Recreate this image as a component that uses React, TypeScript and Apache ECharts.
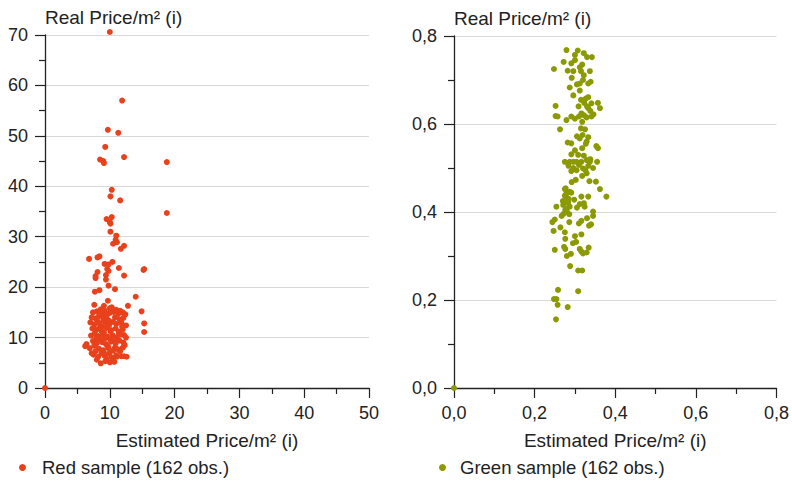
import React, { useEffect, useRef } from "react";
import * as echarts from "echarts";

// Red sample: [estimated, real]
const redSample: [number, number][] = [
  [0, 0],
  [10.0, 70.6], [11.9, 57.0], [9.7, 51.2], [11.3, 50.6], [12.2, 45.8], [9.3, 47.8],
  [8.5, 45.3], [9.0, 45.0], [9.1, 44.6], [18.8, 44.8], [10.3, 39.3], [10.1, 38.0],
  [11.6, 37.2], [18.8, 34.7], [9.5, 33.5], [10.3, 33.9], [10.0, 32.9], [10.1, 32.6],
  [10.1, 31.0], [11.0, 30.2], [10.9, 29.4], [11.1, 28.9], [10.5, 28.6], [12.2, 28.2],
  [11.7, 27.6], [6.8, 25.6], [8.1, 25.9], [8.4, 26.1], [9.2, 24.6], [9.8, 24.5],
  [10.4, 25.0], [9.6, 23.6], [9.8, 23.2], [8.1, 23.0], [9.4, 22.4], [7.8, 22.2],
  [11.4, 23.8], [12.2, 22.3], [15.2, 23.4], [15.3, 23.6], [7.8, 21.8], [9.4, 21.5],
  [14.0, 18.1], [7.7, 19.1], [8.4, 19.4], [9.8, 20.3], [10.8, 19.6], [7.6, 16.5],
  [9.1, 16.3], [9.7, 17.3], [12.8, 16.3], [14.9, 15.2], [15.3, 12.8], [15.3, 11.1],
  [12.2, 10.5], [6.2, 8.3], [6.4, 8.7], [8.6, 4.9], [9.3, 5.3], [10.0, 5.1],
  [10.5, 5.6], [11.1, 6.2], [11.8, 6.3], [12.2, 6.3], [11.6, 7.3], [10.8, 8.0],
  [7.4, 15.0], [8.0, 15.2], [8.6, 15.6], [9.2, 15.4], [10.0, 15.8], [10.6, 15.1],
  [11.0, 15.5], [11.6, 15.3], [12.0, 15.0], [11.3, 14.7], [12.4, 14.6], [10.0, 14.9],
  [7.2, 14.0], [7.8, 13.8], [8.3, 14.2], [8.9, 14.4], [9.5, 13.9], [10.8, 14.0],
  [11.5, 13.6], [12.1, 13.9], [9.0, 13.5], [8.1, 13.2],
  [7.0, 13.0], [7.6, 12.6], [8.4, 12.8], [9.3, 12.9], [9.9, 12.5], [10.5, 13.1],
  [11.0, 12.7], [11.8, 12.9], [12.5, 12.4], [8.8, 12.2],
  [7.3, 11.8], [8.0, 11.6], [8.7, 11.3], [9.5, 11.9], [10.2, 11.5], [10.9, 11.8],
  [11.4, 11.2], [12.0, 11.6], [9.1, 11.0], [7.7, 10.9],
  [7.1, 10.4], [8.2, 10.3], [8.9, 10.6], [9.6, 10.2], [10.4, 10.5], [11.1, 10.1],
  [11.7, 10.6], [12.5, 10.0], [10.0, 9.8], [8.5, 9.7],
  [7.4, 9.3], [8.0, 8.9], [8.8, 9.1], [9.4, 8.7], [10.2, 9.2], [10.9, 8.8],
  [11.5, 9.4], [12.1, 9.0], [9.7, 8.3], [7.6, 8.4],
  [6.9, 7.9], [8.3, 7.8], [9.0, 7.5], [9.8, 7.9], [10.5, 7.4], [11.2, 7.7],
  [12.0, 8.0], [7.8, 7.3], [8.7, 6.9],
  [7.5, 6.6], [8.2, 6.2], [9.2, 6.4], [9.9, 6.8], [10.3, 6.1], [11.0, 6.5],
  [12.6, 6.2], [9.5, 5.8], [8.0, 5.6], [10.7, 5.2], [9.1, 7.0], [7.2, 6.9],
  [10.3, 16.0], [9.6, 14.6], [11.9, 12.2], [8.6, 14.8], [7.9, 9.9], [10.7, 9.6],
  [11.4, 11.0], [9.3, 9.9], [12.3, 8.5], [10.1, 11.2], [8.4, 11.9], [9.8, 13.4],
];

// Green sample: [estimated, real]
const greenSample: [number, number][] = [
  [0, 0],
  [0.279, 0.768], [0.307, 0.767], [0.322, 0.761], [0.330, 0.752], [0.342, 0.752],
  [0.272, 0.741], [0.291, 0.738], [0.300, 0.757],
  [0.248, 0.725], [0.282, 0.721], [0.296, 0.720], [0.312, 0.729], [0.315, 0.720], [0.322, 0.711], [0.337, 0.720],
  [0.287, 0.683], [0.312, 0.692], [0.312, 0.676], [0.339, 0.696], [0.333, 0.692],
  [0.315, 0.655], [0.327, 0.658], [0.333, 0.661], [0.341, 0.647], [0.357, 0.648], [0.362, 0.636],
  [0.252, 0.641], [0.252, 0.618], [0.257, 0.617], [0.279, 0.609], [0.291, 0.617], [0.310, 0.617],
  [0.316, 0.624], [0.322, 0.620], [0.329, 0.615], [0.341, 0.617], [0.333, 0.636],
  [0.263, 0.588], [0.315, 0.590], [0.319, 0.575], [0.312, 0.567], [0.329, 0.560], [0.353, 0.550], [0.357, 0.545],
  [0.282, 0.558], [0.291, 0.556], [0.327, 0.555], [0.291, 0.531], [0.308, 0.530],
  [0.275, 0.514], [0.287, 0.514], [0.296, 0.514], [0.304, 0.514], [0.316, 0.514], [0.329, 0.518], [0.337, 0.514], [0.355, 0.514],
  [0.291, 0.493], [0.304, 0.495], [0.320, 0.499], [0.329, 0.488], [0.326, 0.495],
  [0.302, 0.473], [0.352, 0.469], [0.362, 0.452], [0.277, 0.454], [0.282, 0.444], [0.287, 0.446],
  [0.316, 0.435], [0.333, 0.435], [0.378, 0.435],
  [0.275, 0.452], [0.279, 0.442], [0.291, 0.444], [0.279, 0.431], [0.282, 0.426], [0.283, 0.421],
  [0.273, 0.420], [0.271, 0.416], [0.287, 0.412], [0.279, 0.408], [0.280, 0.401], [0.254, 0.412],
  [0.312, 0.418], [0.324, 0.412],
  [0.345, 0.401], [0.345, 0.391], [0.330, 0.386], [0.335, 0.369], [0.310, 0.374], [0.286, 0.377], [0.267, 0.391],
  [0.244, 0.377], [0.250, 0.383], [0.247, 0.357], [0.275, 0.354], [0.276, 0.339], [0.300, 0.345], [0.316, 0.349], [0.295, 0.329],
  [0.250, 0.314], [0.273, 0.321], [0.276, 0.316], [0.280, 0.300], [0.312, 0.316], [0.316, 0.310], [0.320, 0.306], [0.329, 0.308], [0.334, 0.319],
  [0.288, 0.277], [0.308, 0.267], [0.318, 0.267],
  [0.258, 0.223], [0.308, 0.220], [0.248, 0.202], [0.254, 0.202], [0.257, 0.189], [0.282, 0.184], [0.253, 0.156],
  [0.300, 0.745], [0.318, 0.735], [0.292, 0.705], [0.320, 0.700], [0.305, 0.690], [0.296, 0.665],
  [0.323, 0.648], [0.338, 0.630], [0.300, 0.612], [0.346, 0.622], [0.318, 0.605], [0.330, 0.640],
  [0.309, 0.640], [0.325, 0.588], [0.305, 0.572], [0.333, 0.570], [0.318, 0.545], [0.300, 0.540],
  [0.322, 0.528], [0.338, 0.520], [0.310, 0.507], [0.296, 0.500], [0.333, 0.505], [0.345, 0.500],
  [0.284, 0.505], [0.318, 0.482], [0.336, 0.470], [0.292, 0.468], [0.275, 0.437], [0.284, 0.430],
  [0.270, 0.425], [0.276, 0.405], [0.286, 0.395], [0.272, 0.396], [0.305, 0.410], [0.322, 0.420],
  [0.298, 0.428], [0.316, 0.380], [0.340, 0.372], [0.264, 0.365], [0.303, 0.332], [0.290, 0.305],
];

const redName = "Red sample (162 obs.)";
const greenName = "Green sample (162 obs.)";
const yTitle = "Real Price/m² (i)";
const xTitle = "Estimated Price/m² (i)";

const RED = "#e8411c";
const GREEN = "#8a9a00";
const FONT = "Liberation Sans, Arial, sans-serif";
const TXT = "#222222";

const comma = (v: number) => v.toFixed(1).replace(".", ",");

function axisCommon() {
  return {
    axisLine: { show: true, onZero: false, lineStyle: { color: "#222", width: 1.3 } },
    axisTick: { show: true, inside: false, length: 10, lineStyle: { color: "#222", width: 1.2 } },
    minorTick: { show: true, splitNumber: 2, length: 6, lineStyle: { color: "#222", width: 1.2 } },
    axisLabel: { color: TXT, fontSize: 18, fontFamily: FONT, margin: 16 },
    nameTextStyle: { color: TXT, fontSize: 19, fontFamily: FONT },
  };
}

export default function App() {
  const ref = useRef<HTMLDivElement>(null);
  useEffect(() => {
    if (!ref.current) return;
    const chart = echarts.init(ref.current, undefined, { renderer: "svg" });
    const c = axisCommon();
    chart.setOption({
      animation: false,
      backgroundColor: "#ffffff",
      grid: [
        { left: 45, top: 35, width: 324, height: 353 },
        { left: 454, top: 36, width: 323, height: 352 },
      ],
      xAxis: [
        {
          gridIndex: 0, type: "value", min: 0, max: 50, interval: 10,
          ...c,
          splitLine: { show: false },
          name: xTitle, nameLocation: "middle", nameGap: 43,
        },
        {
          gridIndex: 1, type: "value", min: 0, max: 0.8, interval: 0.2,
          ...c,
          axisLabel: { ...c.axisLabel, formatter: (v: number) => comma(v) },
          splitLine: { show: false },
          name: xTitle, nameLocation: "middle", nameGap: 43,
        },
      ],
      yAxis: [
        {
          gridIndex: 0, type: "value", min: 0, max: 70, interval: 10,
          ...c,
          axisLabel: { ...c.axisLabel, margin: 17 },
          splitLine: { show: true, lineStyle: { color: "#d8d8d8", width: 1 } },
          name: yTitle, nameLocation: "end", nameGap: 8,
          nameTextStyle: { ...c.nameTextStyle, align: "left", verticalAlign: "bottom" },
        },
        {
          gridIndex: 1, type: "value", min: 0, max: 0.8, interval: 0.2,
          ...c,
          axisLabel: { ...c.axisLabel, margin: 17, formatter: (v: number) => comma(v) },
          splitLine: { show: true, lineStyle: { color: "#d8d8d8", width: 1 } },
          name: yTitle, nameLocation: "end", nameGap: 8,
          nameTextStyle: { ...c.nameTextStyle, align: "left", verticalAlign: "bottom" },
        },
      ],
      legend: [
        {
          data: [redName], left: 14, top: 453, icon: "circle", itemWidth: 7, itemHeight: 7,
          textStyle: { color: TXT, fontSize: 18.5, fontFamily: FONT, padding: [0, 0, 0, 11] },
        },
        {
          data: [greenName], left: 434, top: 453, icon: "circle", itemWidth: 7, itemHeight: 7,
          textStyle: { color: TXT, fontSize: 18.5, fontFamily: FONT, padding: [0, 0, 0, 9] },
        },
      ],
      series: [
        {
          name: redName, type: "scatter", xAxisIndex: 0, yAxisIndex: 0,
          data: redSample, symbolSize: 6, clip: false,
          itemStyle: { color: RED, opacity: 1 },
        },
        {
          name: greenName, type: "scatter", xAxisIndex: 1, yAxisIndex: 1,
          data: greenSample, symbolSize: 6, clip: false,
          itemStyle: { color: GREEN, opacity: 1 },
        },
      ],
    });
    return () => chart.dispose();
  }, []);
  return (
    <div
      ref={ref}
      style={{ position: "fixed", left: 0, top: 0, width: 792, height: 482, background: "#fff" }}
    />
  );
}
